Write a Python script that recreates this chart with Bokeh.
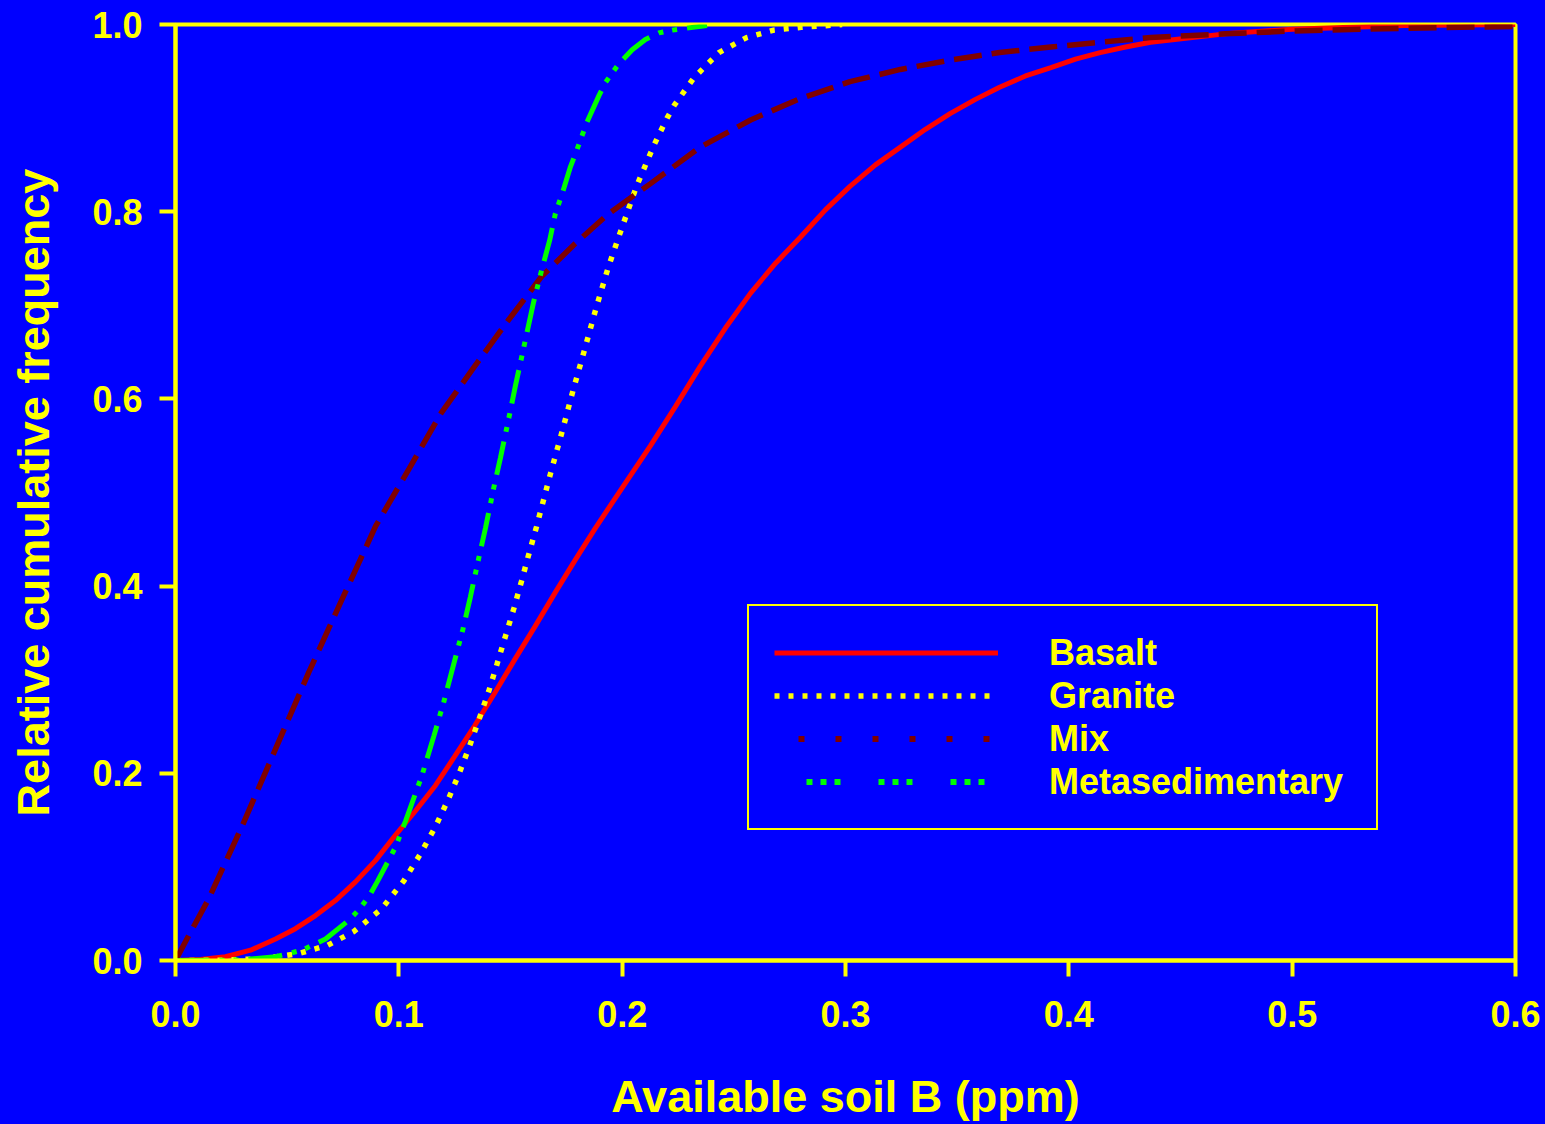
from bokeh.plotting import figure
from bokeh.models import Range1d, FixedTicker, Legend, LegendItem
from bokeh.embed import file_html
from bokeh.resources import INLINE

# ---------------- data ----------------
basalt_x = [0, 0.0112, 0.0224, 0.0336, 0.0448, 0.0537, 0.0627, 0.0716, 0.0806, 0.0896,
            0.0985, 0.1075, 0.1164, 0.125, 0.134, 0.143, 0.152, 0.161, 0.170, 0.179,
            0.188, 0.200, 0.2127, 0.2239, 0.235, 0.2463, 0.2575, 0.2687, 0.2799,
            0.2910, 0.302, 0.3134, 0.3246, 0.3358, 0.347, 0.3582, 0.369, 0.3806,
            0.392, 0.4030, 0.414, 0.4254, 0.4366, 0.47, 0.50, 0.55, 0.60]
basalt_y = [0, 0.001, 0.004, 0.011, 0.023, 0.034, 0.048, 0.064, 0.084, 0.107,
            0.134, 0.160, 0.187, 0.218, 0.251, 0.286, 0.322, 0.357, 0.393, 0.428,
            0.462, 0.505, 0.550, 0.592, 0.635, 0.676, 0.713, 0.745, 0.773,
            0.802, 0.827, 0.850, 0.869, 0.888, 0.905, 0.920, 0.933, 0.945,
            0.954, 0.963, 0.970, 0.976, 0.981, 0.990, 0.995, 0.999, 1.0]

granite_x = [0, 0.02, 0.04, 0.0552, 0.0679, 0.0799, 0.0922, 0.1022, 0.1097, 0.1164,
             0.1221, 0.1272, 0.1318, 0.1361, 0.1403, 0.144, 0.1478, 0.1515, 0.1549,
             0.1582, 0.1616, 0.1649, 0.168, 0.1731, 0.178, 0.1831, 0.1882, 0.1937,
             0.1999, 0.2064, 0.2142, 0.2201, 0.2234, 0.2321, 0.2433, 0.2557, 0.2679,
             0.2802, 0.2985]
granite_y = [0, 0.0003, 0.002, 0.0075, 0.016, 0.031, 0.055, 0.085, 0.114, 0.143,
             0.172, 0.201, 0.230, 0.259, 0.288, 0.317, 0.347, 0.376, 0.405,
             0.434, 0.463, 0.493, 0.521, 0.565, 0.609, 0.652, 0.696, 0.740,
             0.783, 0.827, 0.871, 0.900, 0.914, 0.943, 0.970, 0.986, 0.994,
             0.997, 1.0]

mix_x = [0, 0.006, 0.0149, 0.0299, 0.0448, 0.0597, 0.0746, 0.0896, 0.1045, 0.119,
         0.134, 0.149, 0.164, 0.179, 0.194, 0.2127, 0.235, 0.2575, 0.2799, 0.302,
         0.3246, 0.347, 0.369, 0.392, 0.414, 0.4366, 0.47, 0.50, 0.55, 0.60]
mix_y = [0, 0.027, 0.066, 0.144, 0.226, 0.308, 0.386, 0.464, 0.525, 0.585,
         0.635, 0.684, 0.731, 0.766, 0.798, 0.830, 0.869, 0.898, 0.921, 0.939,
         0.952, 0.962, 0.970, 0.976, 0.981, 0.986, 0.990, 0.993, 0.996, 0.998]

meta_x = [0, 0.0291, 0.0448, 0.0567, 0.0672, 0.0776, 0.0824, 0.087, 0.0903, 0.0985,
          0.103, 0.1104, 0.1157, 0.1201, 0.1246, 0.1287, 0.132, 0.1358, 0.1388,
          0.1425, 0.1455, 0.1493, 0.1522, 0.1604, 0.1642, 0.1675, 0.1701, 0.1731,
          0.1767, 0.1791, 0.1843, 0.1896, 0.1925, 0.1985, 0.2045, 0.2104, 0.2164,
          0.2224, 0.238]
meta_y = [0, 0.0005, 0.004, 0.011, 0.023, 0.043, 0.055, 0.070, 0.084, 0.121,
          0.149, 0.198, 0.240, 0.276, 0.317, 0.354, 0.388, 0.430, 0.462,
          0.505, 0.537, 0.580, 0.614, 0.704, 0.740, 0.769, 0.798, 0.819,
          0.847, 0.862, 0.896, 0.924, 0.938, 0.958, 0.973, 0.984, 0.991,
          0.994, 0.999]

series_names = ["Basalt", "Granite", "Mix", "Metasedimentary"]
x_ticks = [0.0, 0.1, 0.2, 0.3, 0.4, 0.5, 0.6]
x_tick_labels = ["0.0", "0.1", "0.2", "0.3", "0.4", "0.5", "0.6"]
y_ticks = [0.0, 0.2, 0.4, 0.6, 0.8, 1.0]
y_tick_labels = ["0.0", "0.2", "0.4", "0.6", "0.8", "1.0"]

# ---------------- styling ----------------
BLUE = "#0000ff"
YELLOW = "#ffff00"
FONT = "Liberation Sans"

p = figure(width=1545, height=1124, output_backend="svg", toolbar_location=None,
           x_range=Range1d(0, 0.6), y_range=Range1d(0, 1.0),
           min_border_left=175, min_border_right=30, min_border_top=24,
           min_border_bottom=162)
p.background_fill_color = BLUE
p.border_fill_color = BLUE
p.outline_line_color = YELLOW
p.outline_line_alpha = 1.0
p.outline_line_width = 4
p.xgrid.visible = False
p.ygrid.visible = False

for ax in (p.xaxis[0], p.yaxis[0]):
    ax.axis_line_color = YELLOW
    ax.axis_line_width = 4
    ax.major_tick_line_color = YELLOW
    ax.major_tick_line_width = 4
    ax.major_tick_out = 16
    ax.major_tick_in = 0
    ax.minor_tick_line_color = None
    ax.major_label_text_color = YELLOW
    ax.major_label_text_font = FONT
    ax.major_label_text_font_style = "bold"
    ax.major_label_text_font_size = "36px"
    ax.axis_label_text_color = YELLOW
    ax.axis_label_text_font = FONT
    ax.axis_label_text_font_style = "bold"
    ax.axis_label_text_font_size = "45px"

p.xaxis.major_label_standoff = 24
p.yaxis.major_label_standoff = 17
p.xaxis.ticker = FixedTicker(ticks=x_ticks)
p.yaxis.ticker = FixedTicker(ticks=y_ticks)
p.xaxis.major_label_overrides = dict(zip(x_ticks, x_tick_labels))
p.yaxis.major_label_overrides = dict(zip(y_ticks, y_tick_labels))
p.xaxis.axis_label = "Available soil B (ppm)"
p.yaxis.axis_label = "Relative cumulative frequency"
p.xaxis.axis_label_standoff = 41
p.yaxis.axis_label_standoff = 30

LW = 5
r_basalt = p.line(basalt_x, basalt_y, line_color="#ff0000", line_width=LW)
r_granite = p.line(granite_x, granite_y, line_color=YELLOW, line_width=LW + 0.5,
                   line_dash="5 9")
r_mix = p.line(mix_x, mix_y, line_color="#800000", line_width=LW + 0.5,
               line_dash="28 10")
r_meta = p.line(meta_x, meta_y, line_color="#00ff00", line_width=LW,
                line_dash="34 10 5 9 5 10")

# hidden copies used only for the legend swatches (reference legend shows other patterns)
lg_mix = p.line(mix_x, mix_y, line_color="#800000", line_width=6,
                line_dash="6 31", line_dash_offset=13, visible=False)
lg_meta = p.line(meta_x, meta_y, line_color="#00ff00", line_width=6,
                 line_dash="6 8 6 8 6 38", line_dash_offset=40, visible=False)

legend = Legend(items=[
    LegendItem(label=series_names[0], renderers=[r_basalt]),
    LegendItem(label=series_names[1], renderers=[r_granite]),
    LegendItem(label=series_names[2], renderers=[lg_mix]),
    LegendItem(label=series_names[3], renderers=[lg_meta]),
], location=(572, 130))
legend.click_policy = "none"
legend.margin = 0
legend.padding = 25
legend.spacing = 0
legend.glyph_width = 224
legend.glyph_height = 43
legend.label_height = 43
legend.label_width = 302
legend.label_standoff = 51
legend.border_line_color = YELLOW
legend.border_line_alpha = 1.0
legend.border_line_width = 2
legend.background_fill_color = BLUE
legend.background_fill_alpha = 1.0
legend.label_text_color = YELLOW
legend.label_text_font = FONT
legend.label_text_font_style = "bold"
legend.label_text_font_size = "36px"
p.add_layout(legend, "center")

html = file_html(p, INLINE)
html = html.replace("</head>", "<style>html,body{background:#0000ff;}</style></head>", 1)
open("out.html", "w").write(html)
